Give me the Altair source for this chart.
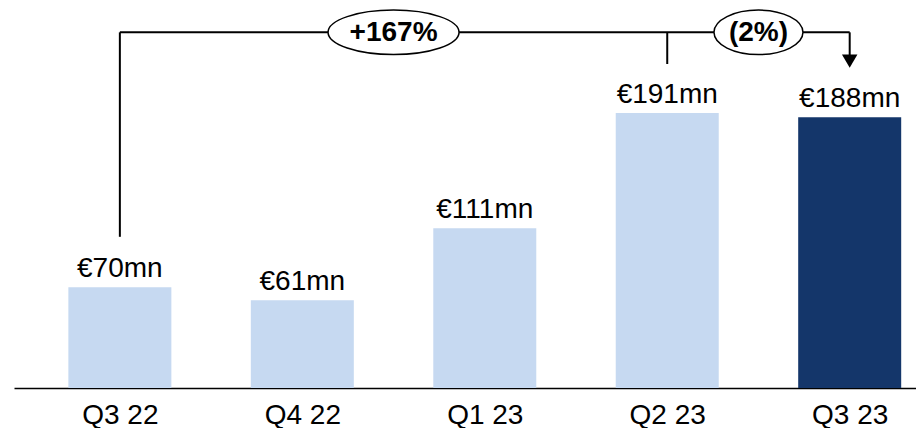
import altair as alt
import pandas as pd

# ---- data ----
categories = ["Q3 22", "Q4 22", "Q1 23", "Q2 23", "Q3 23"]
values = [70, 61, 111, 191, 188]
highlight = [False, False, False, False, True]
change_labels = ["+167%", "(2%)"]
change_from = [0, 3]   # index of start category for each change
change_to = [3, 4]     # index of end category

FONT = "Liberation Sans"
LIGHT = "#c6d9f1"
DARK = "#14366a"

idx = list(range(len(categories)))
bars = pd.DataFrame({
    "x": idx,
    "y": values,
    "cat": categories,
    "hl": ["yes" if h else "no" for h in highlight],
    "label": [f"€{v}mn" for v in values],
})

# bracket geometry derived from the bar values
level = max(values) + 56
rules = pd.DataFrame({
    "x":  [0, 0, 3, 4],
    "x2": [0, 4, 3, 4],
    "y":  [values[0] + 35, level, values[3] + 34, values[4] + 38],
    "y2": [level, level, level, level],
})
arrow = pd.DataFrame({"x": [4], "y": [values[4] + 39]})
ell = pd.DataFrame({
    "x": [(a + b) / 2 for a, b in zip(change_from, change_to)],
    "y": [level, level],
    "label": change_labels,
})


def ellipse_path(ry):
    k = 0.5523
    return (f"M-1,0C-1,{-k*ry:.4f},{-k:.4f},{-ry:.4f},0,{-ry:.4f}"
            f"C{k:.4f},{-ry:.4f},1,{-k*ry:.4f},1,0"
            f"C1,{k*ry:.4f},{k:.4f},{ry:.4f},0,{ry:.4f}"
            f"C{-k:.4f},{ry:.4f},-1,{k*ry:.4f},-1,0Z")


label_expr = "[" + ",".join(f"'{c}'" for c in categories) + "][datum.value]"
X_AX = alt.Axis(values=idx, labelExpr=label_expr, ticks=False, grid=False,
                domainColor="black", domainWidth=1.5, labelFont=FONT,
                labelFontSize=28, labelColor="black", labelPadding=13,
                title=None, labelFlush=False, labelOverlap=False)
XS = alt.Scale(domain=[-0.5528, 4.3360], nice=False, zero=False)
YS = alt.Scale(domain=[0, 263.9], nice=False, zero=True)


def X():
    return alt.X("x:Q", scale=XS, axis=X_AX)


def Y():
    return alt.Y("y:Q", scale=YS, axis=None)


bar_layer = alt.Chart(bars).mark_bar(width=103).encode(
    x=X(), y=Y(),
    color=alt.Color("hl:N", scale=alt.Scale(domain=["no", "yes"], range=[LIGHT, DARK]), legend=None),
)
val_layer = alt.Chart(bars).mark_text(baseline="alphabetic", dy=-10, font=FONT,
                                      fontSize=28, color="black").encode(
    x=X(), y=Y(), text="label:N")

rule_layer = alt.Chart(rules).mark_rule(color="black", strokeWidth=2).encode(
    x=X(), y=Y(), x2="x2:Q", y2="y2:Q")

arrow_layer = alt.Chart(arrow).mark_point(shape="triangle-down", size=240, filled=True,
                                          color="black", opacity=1).encode(x=X(), y=Y())

e1 = alt.Chart(ell.iloc[[0]]).mark_point(shape=ellipse_path(0.34), size=131 ** 2, filled=True,
                                         fill="white", stroke="black", strokeWidth=1.5,
                                         opacity=1).encode(x=X(), y=Y())
e2 = alt.Chart(ell.iloc[[1]]).mark_point(shape=ellipse_path(0.5), size=89 ** 2, filled=True,
                                         fill="white", stroke="black", strokeWidth=1.5,
                                         opacity=1).encode(x=X(), y=Y())
etext = alt.Chart(ell).mark_text(baseline="middle", font=FONT, fontSize=28, fontWeight="bold",
                                 color="black", dy=1).encode(x=X(), y=Y(), text="label:N")

chart = alt.layer(bar_layer, val_layer, rule_layer, arrow_layer, e1, e2, etext).properties(
    width=902, height=380,
    padding={"left": 6, "top": 0, "right": 0, "bottom": 40},
    autosize="none",
    background="white",
).configure_view(stroke=None)

chart.save("out.html", embed_options={"renderer": "svg", "actions": False})
